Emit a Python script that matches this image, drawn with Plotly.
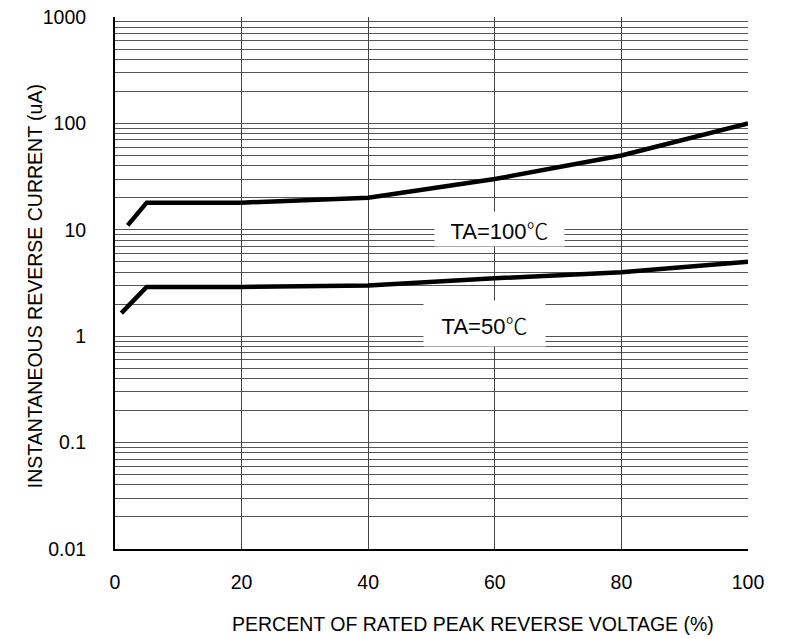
import plotly.graph_objects as go

# Data
x_100 = [2, 5, 20, 40, 60, 80, 100]
y_100 = [11, 18, 18, 20, 30, 50, 100]
x_50 = [1, 5, 20, 40, 60, 80, 100]
y_50 = [1.65, 2.9, 2.9, 3.0, 3.5, 4.0, 5.0]

x_ticks = [0, 20, 40, 60, 80, 100]
y_ticks = [0.01, 0.1, 1, 10, 100, 1000]
y_ticktext = ["0.01", "0.1", "1", "10", "100", "1000"]
y_minor = [m * d for d in [0.01, 0.1, 1, 10, 100] for m in range(2, 10)]

FONT = "Liberation Sans"
DEG = "<span style='font-family:Noto Sans CJK SC;font-weight:300'>℃</span>"

fig = go.Figure()
for xs, ys in [(x_100, y_100), (x_50, y_50)]:
    fig.add_trace(go.Scatter(x=xs, y=ys, mode="lines",
                             line=dict(color="black", width=4.5),
                             showlegend=False, hoverinfo="skip"))

tick_font = dict(family=FONT, size=19.5, color="black", weight="normal")

fig.update_layout(
    width=785, height=639,
    margin=dict(l=115, r=37, t=17, b=90, autoexpand=False),
    paper_bgcolor="white", plot_bgcolor="white",
    font=dict(family=FONT, size=19.5, color="black"),
    xaxis=dict(range=[0, 100], tickvals=x_ticks, ticks="", tickfont=tick_font,
               showgrid=True, gridcolor="#444", gridwidth=1,
               showline=True, linecolor="black", linewidth=2,
               zeroline=False, ticklabelstandoff=15, automargin=False),
    yaxis=dict(type="log", range=[-2, 3], tickvals=y_ticks, ticktext=y_ticktext,
               ticks="", tickfont=tick_font,
               showgrid=True, gridcolor="#555", gridwidth=1,
               showline=True, linecolor="black", linewidth=2,
               zeroline=False, ticklabelstandoff=23, automargin=False,
               minor=dict(tickvals=y_minor, showgrid=True,
                          gridcolor="#555", gridwidth=1, ticks="")),
    annotations=[
        dict(x=60.8, y=1.008, xref="x", yref="y", text="TA=100" + DEG,
             showarrow=False, bgcolor="white", width=127, height=32,
             font=dict(size=22, family=FONT)),
        dict(x=58.45, y=0.124, xref="x", yref="y", text="TA=50" + DEG,
             showarrow=False, bgcolor="white", width=119, height=43,
             font=dict(size=22, family=FONT)),
        dict(x=0.5656, y=-0.141, xref="paper", yref="paper",
             text="PERCENT OF RATED PEAK REVERSE VOLTAGE (%)",
             showarrow=False, xanchor="center", yanchor="middle",
             font=dict(size=19.5, family=FONT)),
        dict(x=-0.1264, y=0.494, xref="paper", yref="paper",
             text="INSTANTANEOUS REVERSE CURRENT (uA)", textangle=-90,
             showarrow=False, xanchor="center", yanchor="middle",
             font=dict(size=19.5, family=FONT)),
    ],
)

fig.write_html("out.html", config={"displayModeBar": False},
               post_script="document.body.style.margin='0';document.body.style.overflow='hidden';")
